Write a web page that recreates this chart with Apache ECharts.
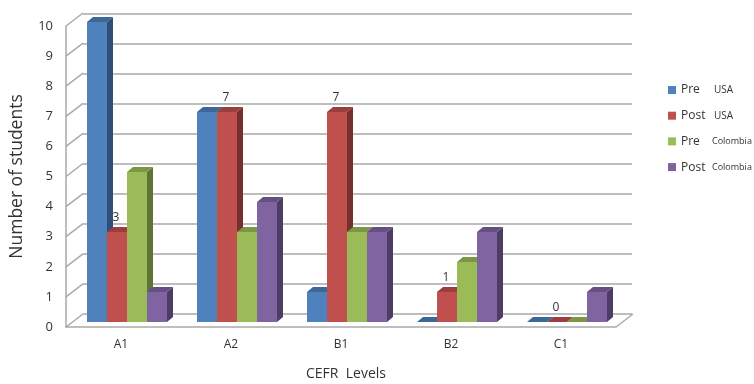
<!DOCTYPE html>
<html>
<head>
<meta charset="utf-8">
<script src="https://cdn.jsdelivr.net/npm/echarts@6/dist/echarts.min.js"></script>
<style>
  html, body { margin: 0; padding: 0; background: #fff; }
  #chart { width: 754px; height: 384px; }
</style>
</head>
<body>
<div id="chart"></div>
<script>
var levels = ['A1', 'A2', 'B1', 'B2', 'C1'];
var yTicks = [0, 1, 2, 3, 4, 5, 6, 7, 8, 9, 10];
var preUsa = [10, 7, 1, 0, 0];
var postUsa = [3, 7, 7, 1, 0];
var preColombia = [5, 3, 3, 2, 0];
var postColombia = [1, 4, 3, 3, 1];
var names = ['Pre|USA', 'Post|USA', 'Pre|Colombia', 'Post|Colombia'];
var values = [preUsa, postUsa, preColombia, postColombia];
var frontColors = ['#4f81bd', '#c0504d', '#9bbb59', '#8064a2'];
var topColors = ['#3d6797', '#9a3f3d', '#7c9647', '#665082'];
var sideColors = ['#2f4f77', '#772f2d', '#5f7335', '#4d3c63'];
// only these bars carry a number in the original (series index -> level index)
var labelled = { 1: [0, 1, 2, 3, 4] };

var chart = echarts.init(document.getElementById('chart'));
var textColor = '#333';
var lineColor = '#a9a9a9';

function barItem(s) {
  return function (params, api) {
    var i = api.value(0);
    var base = api.coord([i, 0]);
    var top = api.coord([i, api.value(1)]);
    var w = 20, dx = 6, dy = 5;
    var x = base[0] - 40 + s * w;
    var kids = [
      { type: 'rect', shape: { x: x, y: top[1], width: w, height: base[1] - top[1] }, style: { fill: frontColors[s] } },
      { type: 'polygon', shape: { points: [[x + w, top[1]], [x + w + dx, top[1] - dy], [x + w + dx, base[1] - dy], [x + w, base[1]]] }, style: { fill: sideColors[s] } },
      { type: 'polygon', shape: { points: [[x, top[1]], [x + dx, top[1] - dy], [x + w + dx, top[1] - dy], [x + w, top[1]]] }, style: { fill: topColors[s] } }
    ];
    if (labelled[s] && labelled[s].indexOf(i) >= 0) {
      kids.push({
        type: 'text',
        style: { x: x + w / 2 - 1, y: top[1] - 14, text: String(api.value(1)), fill: textColor, font: '12px "Open Sans"', align: 'center', verticalAlign: 'middle' }
      });
    }
    return { type: 'group', children: kids };
  };
}

function frameItem(params, api) {
  var p = api.coord([0, api.value(1)]);
  var x = params.coordSys.x;
  var kids = [{ type: 'line', shape: { x1: x, y1: p[1], x2: x + 17, y2: p[1] - 13 }, style: { stroke: lineColor, lineWidth: 1.5 } }];
  if (api.value(1) === 0) {
    var r = x + params.coordSys.width;
    kids.push({ type: 'line', shape: { x1: r, y1: p[1], x2: r + 17, y2: p[1] - 13 }, style: { stroke: lineColor, lineWidth: 1.5 } });
  }
  return { type: 'group', children: kids };
}

var series = [{
  type: 'custom',
  xAxisIndex: 0,
  yAxisIndex: 0,
  renderItem: frameItem,
  silent: true,
  z: 1,
  data: yTicks.map(function (v) { return [0, v]; })
}];
names.forEach(function (name, s) {
  series.push({
    name: name,
    type: 'custom',
    xAxisIndex: 2,
    yAxisIndex: 2,
    renderItem: barItem(s),
    itemStyle: { color: frontColors[s] },
    z: 3 + s,
    data: values[s].map(function (v, i) { return [i, v]; })
  });
});

chart.setOption({
  animation: false,
  backgroundColor: '#fff',
  grid: [
    { left: 66, top: 26, width: 550, height: 301, outerBoundsMode: 'none' },
    { left: 83, top: 13.5, width: 549, height: 300, outerBoundsMode: 'none' },
    { left: 72, top: 22, width: 550, height: 300, outerBoundsMode: 'none' }
  ],
  xAxis: [
    {
      gridIndex: 0, type: 'category', data: levels,
      axisLine: { lineStyle: { color: lineColor, width: 1.5 } },
      axisTick: { show: false },
      axisLabel: { color: textColor, fontFamily: 'Open Sans', fontSize: 12, margin: 12 },
      name: 'CEFR  Levels', nameLocation: 'middle', nameGap: 40,
      nameTextStyle: { color: textColor, fontFamily: 'Open Sans', fontSize: 14, padding: [0, 0, 0, 10] }
    },
    { gridIndex: 1, type: 'category', data: levels, axisLine: { show: false }, axisTick: { show: false }, axisLabel: { show: false } },
    { gridIndex: 2, type: 'category', data: levels, show: false }
  ],
  yAxis: [
    {
      gridIndex: 0, type: 'value', min: 0, max: 10, interval: 1,
      axisLine: { show: true, lineStyle: { color: lineColor, width: 1.5 } },
      axisTick: { show: false },
      splitLine: { show: false },
      axisLabel: { color: textColor, fontFamily: 'Open Sans', fontSize: 13, margin: 13 },
      name: 'Number of students', nameLocation: 'middle', nameGap: 40,
      nameTextStyle: { color: textColor, fontFamily: 'Open Sans', fontSize: 17.5 }
    },
    {
      gridIndex: 1, type: 'value', min: 0, max: 10, interval: 1,
      axisLine: { show: false }, axisTick: { show: false }, axisLabel: { show: false },
      splitLine: { show: true, lineStyle: { color: lineColor, width: 1.5 } }
    },
    { gridIndex: 2, type: 'value', min: 0, max: 10, interval: 1, show: false }
  ],
  legend: {
    orient: 'vertical',
    left: 663,
    top: 79,
    icon: 'rect',
    itemWidth: 8,
    itemHeight: 8,
    itemGap: 13.7,
    data: names,
    formatter: function (name) {
      var p = name.split('|');
      return '{a|' + p[0] + '}{' + (p[1] === 'USA' ? 'b' : 'c') + '|' + p[1] + '}';
    },
    textStyle: {
      rich: {
        a: { fontFamily: 'Open Sans', fontSize: 12, color: textColor, width: 31 },
        b: { fontFamily: 'Open Sans', fontSize: 10, color: textColor, padding: [0, 0, 0, 2] },
        c: { fontFamily: 'Open Sans', fontSize: 9, color: textColor }
      }
    }
  },
  series: series
});
</script>
</body>
</html>
